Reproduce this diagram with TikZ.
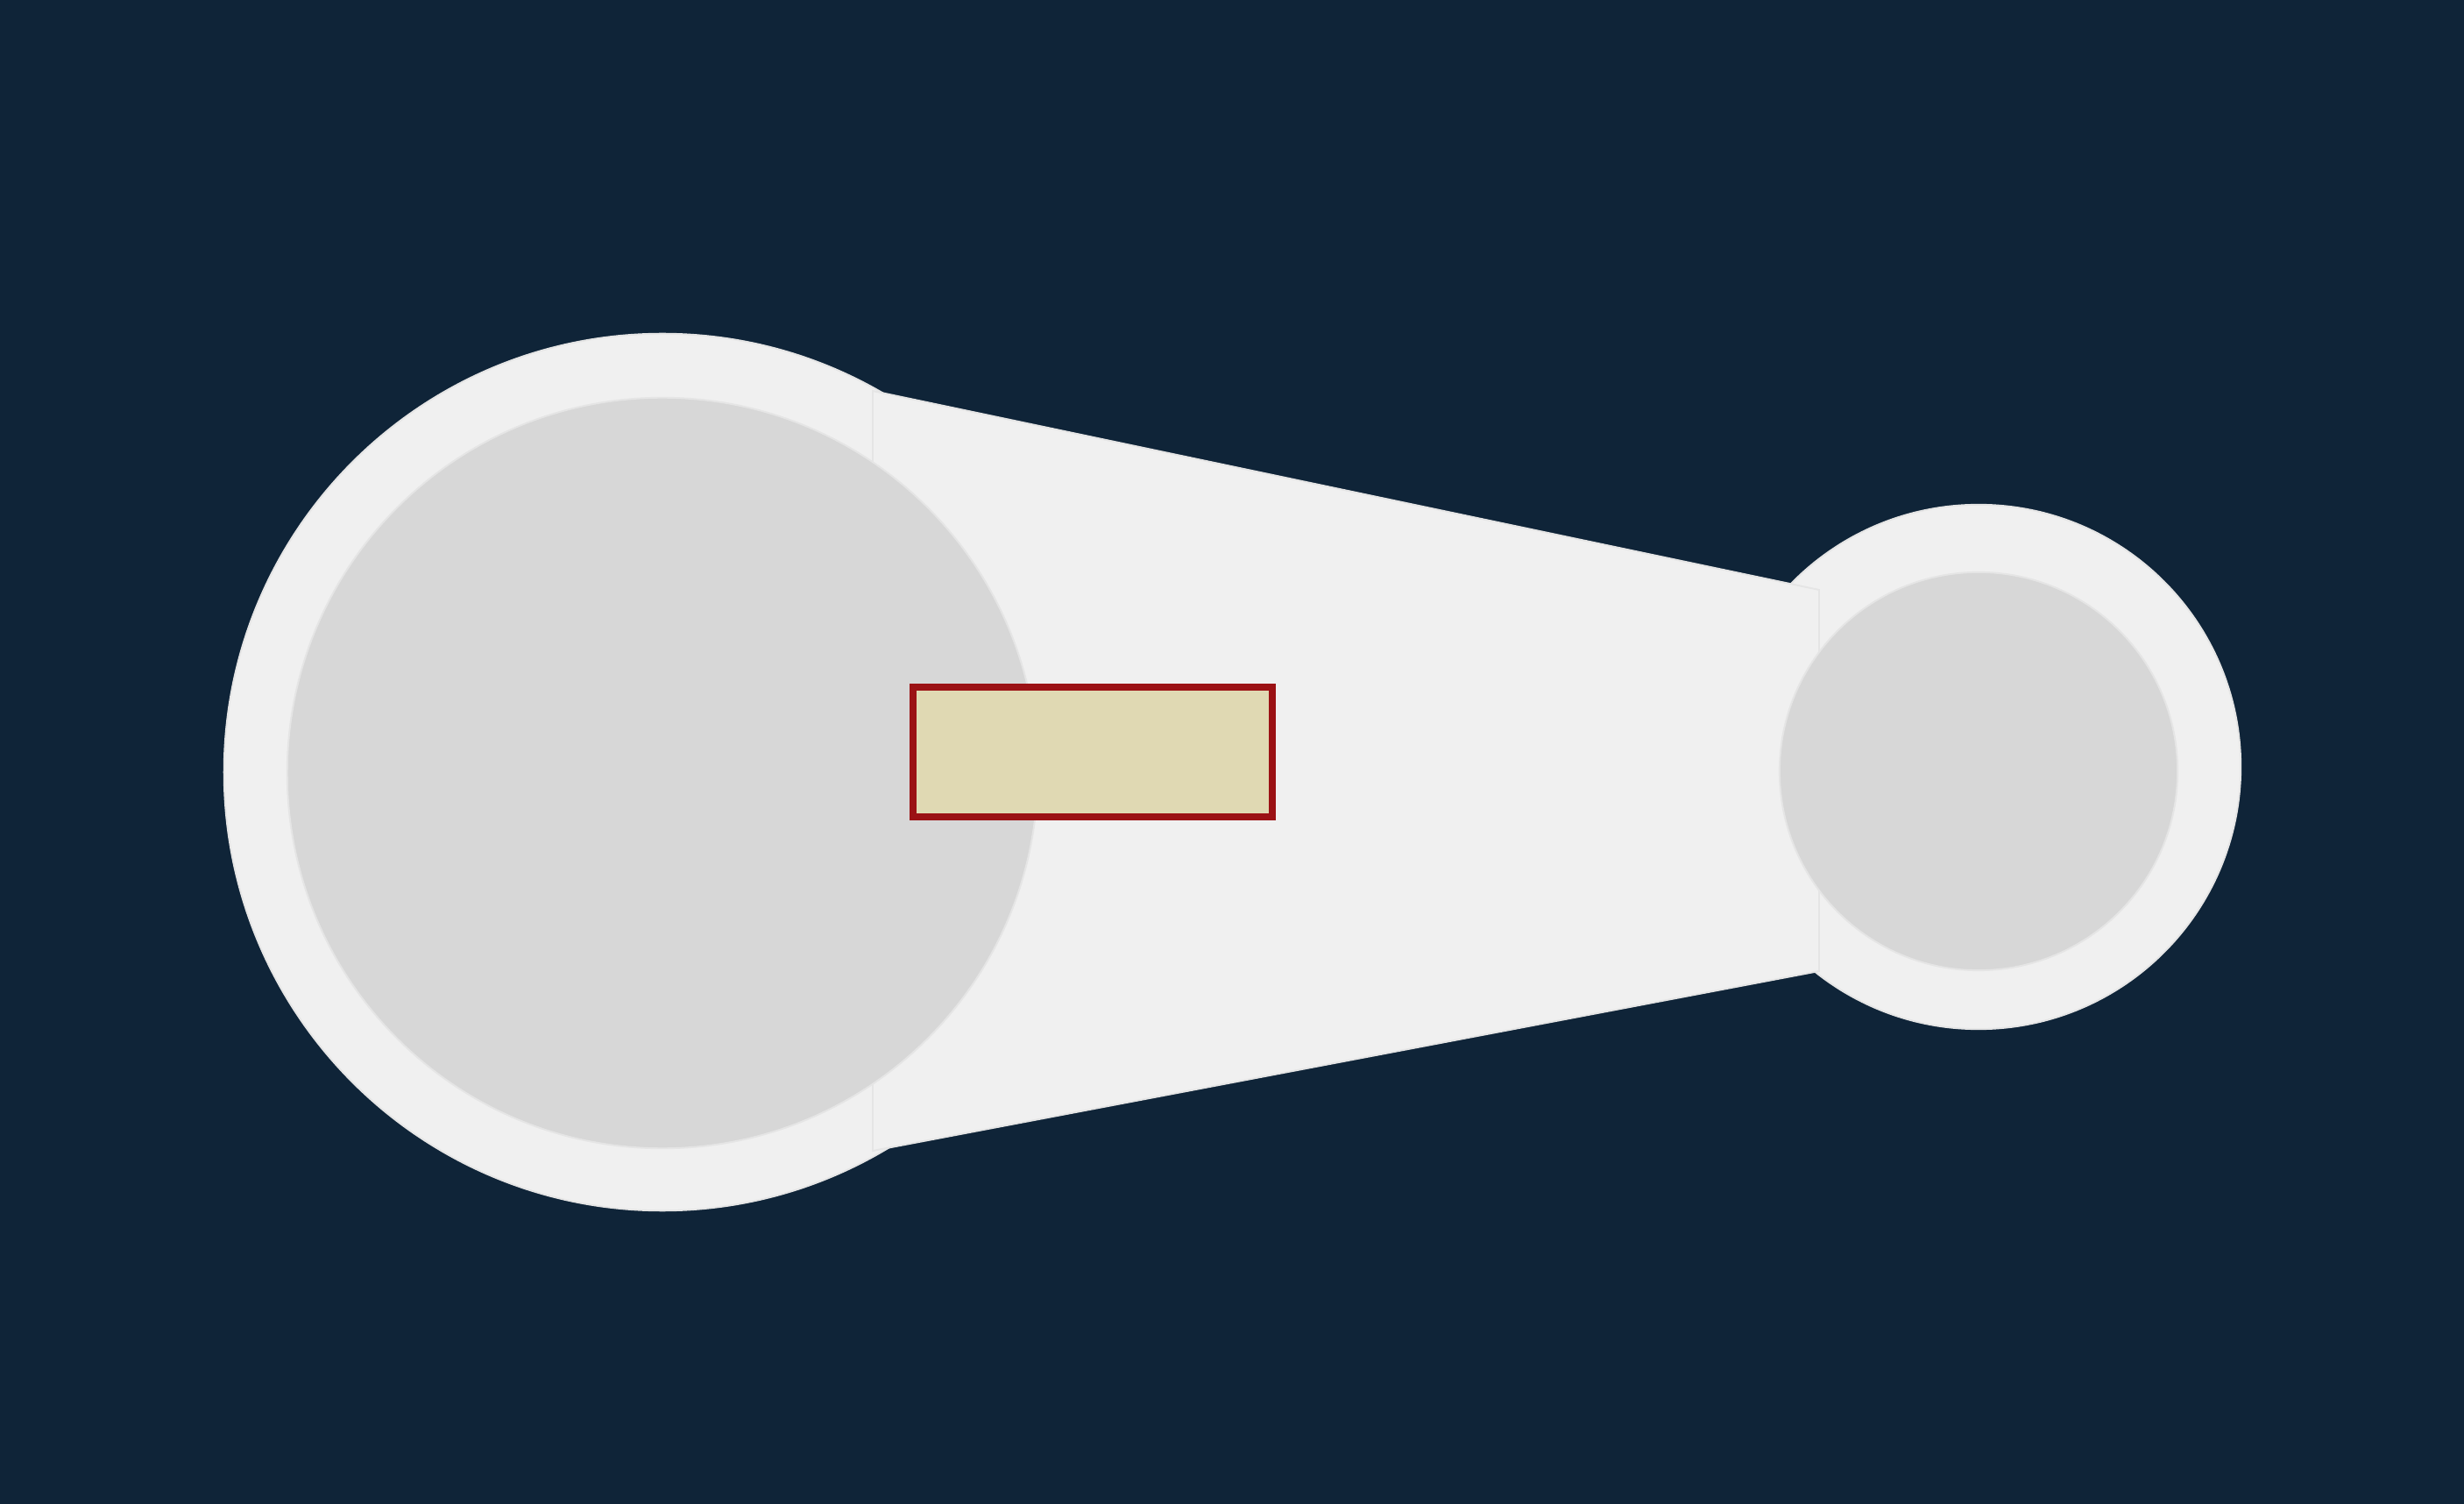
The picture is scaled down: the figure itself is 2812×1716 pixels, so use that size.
\documentclass[tikz,border=0pt]{standalone}
\usepackage{tikz}
\usetikzlibrary{positioning,calc}
\definecolor{navybg}{HTML}{0F2438}
\definecolor{rimgray}{HTML}{F0F0F0}
\definecolor{hubgray}{HTML}{D7D7D7}
\definecolor{edgegray}{HTML}{E5E5E5}
\definecolor{tagfill}{HTML}{E0D9B3}
\definecolor{tagred}{HTML}{9B1114}
\tikzset{wheelrim/.style={circle, inner sep=0, fill=rimgray, draw=edgegray, line width=0.55pt}}
\tikzset{wheelhub/.style={circle, inner sep=0, fill=hubgray, draw=edgegray, line width=0.55pt}}
\tikzset{beltband/.style={fill=rimgray, draw=edgegray, line width=0.55pt}}
\tikzset{tagbox/.style={rectangle, inner sep=0, fill=tagfill, draw=tagred, line width=2.3pt}}

\begin{document}
\begin{tikzpicture}[x=0.01cm,y=-0.01cm]
			\fill[navybg] (0,0) rectangle (2812,1716);
			\useasboundingbox (0,0) rectangle (2812,1716);
			% outer rims
			\node[wheelrim, minimum size=10cm] (bigrim) at (756,881) {};
			\node[wheelrim, minimum size=5.98cm] (smallrim) at (2258,875) {};
			% band between the wheels
			\coordinate (bandtl) at (996,446);
			\coordinate (bandtr) at (2076,673);
			\coordinate (bandbr) at (2076,1108);
			\coordinate (bandbl) at (996,1313);
			\path[beltband] (bandtl) -- (bandtr) -- (bandbr) -- (bandbl) -- cycle;
			% hubs
			\node[wheelhub, minimum size=8.56cm] (bighub) at (756,882) {};
			\node[wheelhub, minimum size=4.54cm] (smallhub) at (2258,880) {};
			%
			\node[tagbox, minimum width=4.1cm, minimum height=1.48cm] (tag) at (1247,858) {};
		\end{tikzpicture}
\end{document}
